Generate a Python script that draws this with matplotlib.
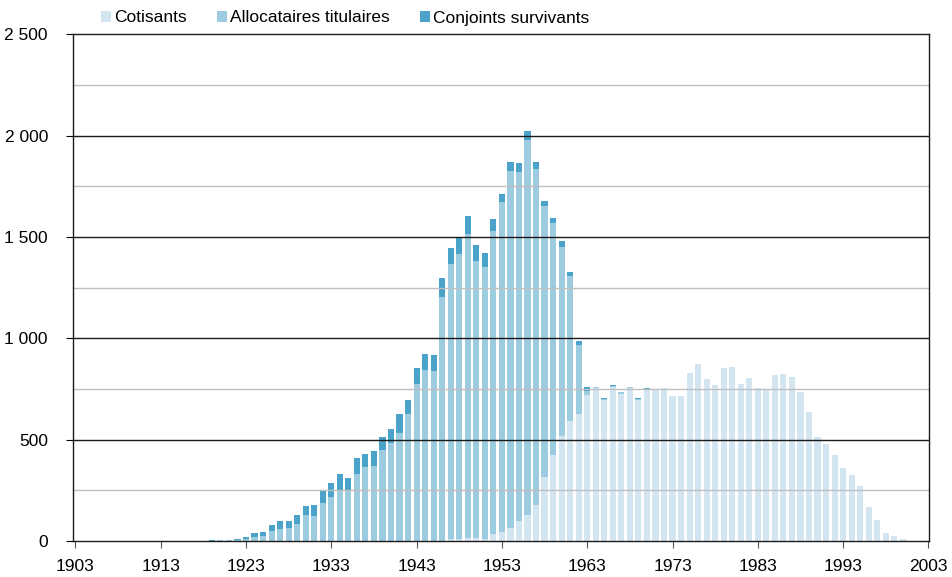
import numpy as np
import matplotlib
matplotlib.use("Agg")
import matplotlib.pyplot as plt
from matplotlib import font_manager
from matplotlib.ticker import FuncFormatter, MultipleLocator
from matplotlib.patches import Patch

years = list(range(1919, 2001))

# bottom layer
cotisants = [0, 0, 0, 0, 0, 0, 0, 0, 0, 0,
             0, 0, 0, 0, 0, 0, 0, 0, 0, 0,
             0, 0, 0, 0, 1, 1, 2, 2, 8, 8,
             16, 16, 12, 36, 44, 65, 99, 128, 178, 316,
             424, 519, 592, 626, 720, 755, 694, 761, 726, 757,
             695, 748, 748, 754, 715, 715, 827, 873, 800, 770,
             856, 859, 775, 804, 753, 751, 819, 823, 809, 735,
             636, 514, 477, 424, 358, 324, 273, 166, 102, 39,
             25, 11]

allocataires = [2, 3, 3, 7, 11, 21, 24, 51, 59, 66,
                82, 130, 123, 189, 218, 248, 251, 329, 363, 371,
                449, 485, 534, 626, 774, 842, 836, 1200, 1358, 1407,
                1498, 1365, 1339, 1493, 1628, 1759, 1721, 1849, 1658, 1337,
                1147, 934, 715, 340, 20, 4, 6, 5, 7, 2,
                6, 2, 0, 0, 0, 0, 0, 0, 0, 0,
                0, 0, 0, 0, 0, 0, 0, 0, 0, 0,
                0, 0, 0, 0, 0, 0, 0, 0, 0, 0,
                0, 0]

conjoints = [1, 2, 2, 4, 9, 18, 20, 29, 41, 31,
             44, 44, 56, 57, 66, 84, 60, 80, 66, 74,
             65, 67, 91, 72, 80, 79, 78, 96, 82, 81,
             90, 79, 68, 62, 39, 48, 46, 46, 36, 24,
             25, 25, 21, 19, 19, 0, 7, 3, 3, 0,
             3, 4, 0, 0, 0, 0, 0, 0, 0, 0,
             0, 0, 0, 0, 0, 0, 0, 0, 0, 0,
             0, 0, 0, 0, 0, 0, 0, 0, 0, 0,
             0, 0]

labels = ["Cotisants", "Allocataires titulaires", "Conjoints survivants"]
colors = ["#D2E5F0", "#9DCBDF", "#4BA3C9"]

# narrow font if there is one, the reference text is condensed
try:
    font_manager.findfont("Liberation Sans Narrow", fallback_to_default=False)
    narrow = True
except ValueError:
    narrow = False

if narrow:
    plt.rcParams['font.family'] = ['Liberation Sans Narrow', 'Liberation Sans', 'DejaVu Sans']
    fs = 15
else:
    plt.rcParams['font.family'] = ['Liberation Sans', 'DejaVu Sans']
    fs = 12.5

fig = plt.figure(figsize=(9.52, 5.77), dpi=100)
ax = fig.add_axes([73 / 952, 1 - 541 / 577, (929.3 - 73) / 952, (541 - 34.3) / 577])

x = np.array(years)
cot = np.array(cotisants)
alloc = np.array(allocataires)
conj = np.array(conjoints)
w = 0.72
ax.bar(x, cot, width=w, color=colors[0], zorder=2)
ax.bar(x, alloc, width=w, bottom=cot, color=colors[1], zorder=2)
ax.bar(x, conj, width=w, bottom=cot + alloc, color=colors[2], zorder=2)

ax.set_xlim(1902.72, 2003.1)
ax.set_ylim(0, 2500)
ax.set_xticks(range(1903, 2004, 10))
ax.yaxis.set_major_locator(MultipleLocator(500))
ax.yaxis.set_minor_locator(MultipleLocator(250))
ax.yaxis.set_major_formatter(FuncFormatter(lambda v, p: f"{int(v):,}".replace(",", " ")))

for v in range(250, 2500, 500):
    ax.axhline(v, color="#BFBFBF", lw=1, zorder=3)
for v in range(500, 2500, 500):
    ax.axhline(v, color="#1A1A1A", lw=1, zorder=3)

for s in ax.spines.values():
    s.set_color("#1A1A1A")
    s.set_linewidth(1)
    s.set_zorder(4)

ax.tick_params(axis="y", which="major", direction="out", length=5, pad=13, labelsize=fs)
ax.tick_params(axis="y", which="minor", length=0)
ax.tick_params(axis="x", direction="out", length=5, pad=8, labelsize=fs, color="#555555")

handles = [Patch(facecolor=c, edgecolor="none") for c in colors]
fig.legend(handles, labels, loc="center left", bbox_to_anchor=(101 / 952, 1 - 18 / 577),
           ncol=3, frameon=False, fontsize=fs, borderpad=0, borderaxespad=0,
           handlelength=0.55, handleheight=0.55, handletextpad=0.2, columnspacing=1.75)

fig.savefig("out.png", dpi=100)
